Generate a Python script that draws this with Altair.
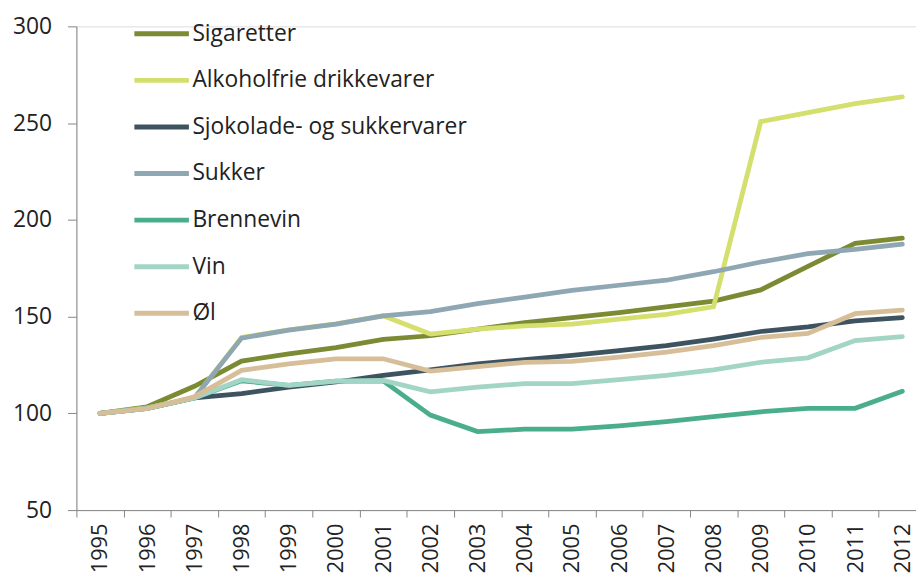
import altair as alt
import pandas as pd

years = [str(y) for y in range(1995, 2013)]

series_names = ["Sigaretter", "Alkoholfrie drikkevarer", "Sjokolade- og sukkervarer",
                "Sukker", "Brennevin", "Vin", "Øl"]
series_colors = ["#7B8B34", "#D4DF6E", "#3E5360", "#8FA7B3", "#4AAE8C", "#A2D5C6", "#D6BE98"]

sigaretter = [100, 103.4, 114, 127, 130.7, 134, 138.2, 140.1, 143.5, 146.9, 149.5, 152, 155, 158, 163.8, 176, 187.9, 190.5]
alkoholfrie = [100, 102.8, 108, 139.2, 143.2, 146.2, 150.4, 141, 143.5, 145.2, 146.1, 148.7, 151.2, 155.1, 250.8, 255.4, 260.1, 263.6]
sjokolade = [100, 102.5, 108, 110.2, 113.6, 116.2, 119.6, 122.5, 125.6, 127.8, 129.9, 132.4, 135, 138.4, 142.3, 144.7, 147.8, 149.5]
sukker = [100, 102.5, 108, 138.9, 143, 146.1, 150.4, 152.6, 156.7, 160.1, 163.5, 166.2, 168.8, 173.2, 178.2, 182.5, 184.8, 187.4]
brennevin = [100, 102.5, 108, 116.8, 114.5, 116.7, 116.8, 99.1, 90.6, 91.8, 91.8, 93.5, 95.7, 98.3, 100.8, 102.6, 102.6, 111.4]
vin = [100, 102.5, 108, 117.4, 114.5, 116.7, 117, 111.1, 113.6, 115.4, 115.4, 117.4, 119.6, 122.5, 126.4, 128.7, 137.6, 139.6]
ol = [100, 102.5, 108.5, 122.2, 125.6, 128.2, 128.2, 121.8, 124.2, 126.4, 126.9, 129, 131.6, 135, 139.2, 141.3, 151.5, 153.3]

all_series = [sigaretter, alkoholfrie, sjokolade, sukker, brennevin, vin, ol]

rows = []
for name, vals in zip(series_names, all_series):
    for yr, v in zip(years, vals):
        rows.append({"year": yr, "value": v, "serie": name})
df = pd.DataFrame(rows)

FONT = "Open Sans"
TXT = "#222222"

chart = alt.Chart(df).mark_line(strokeWidth=4.8, strokeCap="round").encode(
    x=alt.X("year:O",
            scale=alt.Scale(type="band", paddingInner=0, paddingOuter=0, range=[0, 857]),
            axis=alt.Axis(title=None, labelAngle=-90, tickBand="extent", labelFontSize=22,
                          labelFont=FONT, labelColor=TXT, domainColor="#868686",
                          tickColor="#868686", tickSize=7, labelPadding=6, grid=False)),
    y=alt.Y("value:Q",
            scale=alt.Scale(domain=[50, 300], nice=False, zero=False),
            axis=alt.Axis(title=None, values=[50, 100, 150, 200, 250, 300], labelFontSize=23,
                          labelFont=FONT, labelColor=TXT, domainColor="#868686",
                          tickColor="#868686", tickSize=9, labelPadding=16, grid=False)),
    color=alt.Color("serie:N",
                    scale=alt.Scale(domain=series_names, range=series_colors),
                    legend=alt.Legend(title=None, orient="none", legendX=56, legendY=-16,
                                      symbolType="stroke", symbolSize=3025, symbolStrokeWidth=5,
                                      labelFontSize=23, labelFont=FONT, labelColor=TXT,
                                      labelLimit=500, labelOffset=1, clipHeight=47,
                                      rowPadding=0, padding=0)),
    order=alt.Order("serie:N"),
).properties(
    width=847,
    height=488,
    autosize=alt.AutoSizeParams(type="none"),
    padding={"left": 69, "top": 16, "right": 0, "bottom": 67},
).configure_view(stroke=None).configure(background="white")

chart.save("out.html", embed_options={"renderer": "svg", "actions": False})
